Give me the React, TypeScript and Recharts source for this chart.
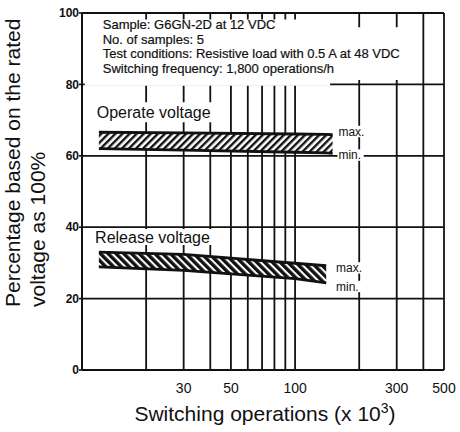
import React from "react";
import {
  ComposedChart,
  Area,
  XAxis,
  YAxis,
  CartesianGrid,
  ReferenceArea,
} from "recharts";

const FONT = "'Liberation Sans', Arial, Helvetica, sans-serif";

// switching operations (x 10^3)
const ops = [12, 30, 100, 140, 150];
const operateMax = [66.6, 66.4, 66.1, 66.0, 65.9];
const operateMin = [62.0, 61.6, 61.0, 60.8, 60.7];
const releaseMax = [33.0, 32.4, 29.9, 29.2, null];
const releaseMin = [28.9, 27.9, 25.6, 24.4, null];

const xTicks = [20, 30, 40, 50, 60, 70, 80, 90, 100, 200, 300, 400, 500];
const xLabeled = [30, 50, 100, 300, 500];
const yTicks = [0, 20, 40, 60, 80, 100];

const infoLines = [
  "Sample: G6GN-2D at 12 VDC",
  "No. of samples: 5",
  "Test conditions: Resistive load with 0.5 A at 48 VDC",
  "Switching frequency: 1,800 operations/h",
];

const data = ops.map((x, i) => ({
  x,
  operate: [operateMin[i], operateMax[i]],
  release: releaseMax[i] == null ? null : [releaseMin[i], releaseMax[i]],
}));

const InfoBox = (props: any) => {
  const { viewBox } = props;
  const x = viewBox.x + 18;
  return (
    <text fontFamily={FONT} fontSize={13} fill="#111" stroke="#111" strokeWidth={0.2}>
      {infoLines.map((line, i) => (
        <tspan key={i} x={x} y={viewBox.y + 10 + i * 14.4}>
          {line}
        </tspan>
      ))}
    </text>
  );
};

const YTitle = () => (
  <g fontFamily={FONT} fontSize={21} fill="#111">
    <text x={20} y={307} transform="rotate(-90, 20, 307)">
      Percentage based on the rated
    </text>
    <text x={45} y={307} transform="rotate(-90, 45, 307)">
      voltage as 100%
    </text>
  </g>
);

const XTitle = (props: any) => {
  const { viewBox } = props;
  const cx = viewBox.x + viewBox.width / 2 + 2;
  return (
    <text x={cx} y={421} textAnchor="middle" fontFamily={FONT} fontSize={21} fill="#111">
      Switching operations (x 10
      <tspan dy={-8} fontSize={14}>3</tspan>
      <tspan dy={8}>)</tspan>
    </text>
  );
};

const boxLabel = (value: string, size: number) => ({
  value,
  position: "insideLeft" as const,
  offset: 1,
  fill: "#111",
  fontSize: size,
  fontFamily: FONT,
});

export default function App() {
  return (
    <div style={{ position: "absolute", left: 0, top: 0, background: "#fff" }}>
      <svg width={0} height={0} style={{ position: "absolute" }}>
        <defs>
          <pattern id="hatchOperate" width={5} height={5} patternUnits="userSpaceOnUse" patternTransform="rotate(45)">
            <rect width={5} height={5} fill="#fff" />
            <rect width={2.4} height={5} fill="#111" />
          </pattern>
          <pattern id="hatchRelease" width={5.5} height={5.5} patternUnits="userSpaceOnUse" patternTransform="rotate(-45)">
            <rect width={5.5} height={5.5} fill="#fff" />
            <rect width={3.4} height={5.5} fill="#111" />
          </pattern>
        </defs>
      </svg>
      <ComposedChart
        width={460}
        height={432}
        data={data}
        margin={{ top: 13, right: 16, left: 0, bottom: 0 }}
      >
        <CartesianGrid stroke="#111" strokeWidth={1.8} />
        <XAxis
          dataKey="x"
          type="number"
          scale="log"
          domain={[10, 500]}
          allowDataOverflow
          ticks={xTicks}
          interval={0}
          height={62}
          tickSize={0}
          tickMargin={13}
          tickFormatter={(v: number) => (xLabeled.includes(v) ? String(v) : "")}
          tick={{ fontSize: 14, fill: "#111", fontFamily: FONT }}
          axisLine={{ stroke: "#111", strokeWidth: 2 }}
          label={<XTitle />}
        />
        <YAxis
          type="number"
          domain={[0, 100]}
          ticks={yTicks}
          width={82}
          tickSize={3}
          tickMargin={0}
          tick={{ fontSize: 12, fontWeight: "bold", fill: "#111", fontFamily: FONT }}
          tickLine={{ stroke: "#111", strokeWidth: 1.6 }}
          axisLine={{ stroke: "#111", strokeWidth: 2 }}
        />
        <ReferenceArea x1={146} x2={345} y1={81.2} y2={96} fill="#fff" fillOpacity={1} stroke="none" />
        <ReferenceArea
          x1={10.3}
          x2={146}
          y1={79.6}
          y2={98.2}
          fill="#fff"
          fillOpacity={1}
          stroke="none"
          label={<InfoBox />}
        />
        <ReferenceArea x1={11.6} x2={42} y1={69.4} y2={75} fill="#fff" fillOpacity={1} stroke="none" label={boxLabel("Operate voltage", 16)} />
        <ReferenceArea x1={11.4} x2={42} y1={35} y2={39.5} fill="#fff" fillOpacity={1} stroke="none" label={boxLabel("Release voltage", 16)} />
        <ReferenceArea x1={158} x2={210} y1={65.2} y2={68.4} fill="#fff" fillOpacity={1} stroke="none" label={boxLabel("max.", 12)} />
        <ReferenceArea x1={158} x2={210} y1={58.6} y2={61.8} fill="#fff" fillOpacity={1} stroke="none" label={boxLabel("min.", 12)} />
        <ReferenceArea x1={154} x2={205} y1={27} y2={30.2} fill="#fff" fillOpacity={1} stroke="none" label={boxLabel("max.", 12)} />
        <ReferenceArea x1={154} x2={205} y1={21.8} y2={25} fill="#fff" fillOpacity={1} stroke="none" label={boxLabel("min.", 12)} />
        <Area
          dataKey="operate"
          type="linear"
          stroke="#111"
          strokeWidth={2.8}
          fill="url(#hatchOperate)"
          fillOpacity={1}
          dot={false}
          activeDot={false}
          isAnimationActive={false}
        />
        <Area
          dataKey="release"
          type="linear"
          stroke="#111"
          strokeWidth={2.8}
          fill="url(#hatchRelease)"
          fillOpacity={1}
          dot={false}
          activeDot={false}
          isAnimationActive={false}
        />
      </ComposedChart>
      <svg width={460} height={432} style={{ position: "absolute", left: 0, top: 0, pointerEvents: "none" }}>
        <YTitle />
      </svg>
    </div>
  );
}
